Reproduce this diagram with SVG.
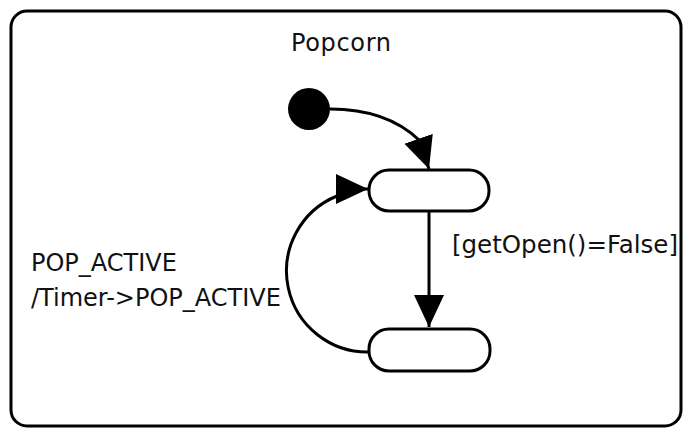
<svg xmlns="http://www.w3.org/2000/svg" width="684" height="429" viewBox="0 0 684 429">
  <style>
    .frame { fill: #ffffff; stroke: #000000; stroke-width: 3; }
    .state { fill: #ffffff; stroke: #000000; stroke-width: 3; }
    .edge { fill: none; stroke: #000000; stroke-width: 3; marker-end: url(#arrow); }
    .label { font-family: "DejaVu Sans", sans-serif; font-size: 24px; fill: #111111; }
  </style>
  <defs>
    <marker id="arrow" markerUnits="userSpaceOnUse" markerWidth="34" markerHeight="32" refX="32" refY="15" orient="auto">
      <path d="M0,0 L32,15 L0,30 Z" fill="#000000"/>
    </marker>
  </defs>

  <rect width="684" height="429" fill="#ffffff"/>

  <!-- composite state -->
  <g id="popcorn">
    <rect class="frame" x="11" y="11" width="670" height="415" rx="16" ry="16"/>
    <text class="label" x="291" y="51" textLength="100" lengthAdjust="spacing">Popcorn</text>
  </g>

  <!-- initial pseudo-state -->
  <g id="initial">
    <circle cx="309" cy="109" r="21" fill="#000000"/>
  </g>

  <!-- simple states -->
  <g id="state-top">
    <rect class="state" x="369" y="170" width="120" height="41" rx="20" ry="20"/>
  </g>
  <g id="state-bottom">
    <rect class="state" x="369" y="329" width="121" height="42" rx="20" ry="20"/>
  </g>

  <!-- transitions -->
  <g id="connectors">
    <path class="edge" d="M330,109 C366,109 396,118 419,140 L429,169"/>
    <path class="edge" d="M429,211 L429,327"/>
    <path class="edge" d="M370,352 A81,81 0 0 1 337,196 L340,189 L368,189"/>
  </g>

  <!-- transition labels -->
  <g id="labels">
    <text class="label" x="452" y="253" textLength="226" lengthAdjust="spacingAndGlyphs">[getOpen()=False]</text>
    <text class="label" x="31" y="271">POP_ACTIVE</text>
    <text class="label" x="31" y="306">/Timer-&gt;POP_ACTIVE</text>
  </g>
</svg>
